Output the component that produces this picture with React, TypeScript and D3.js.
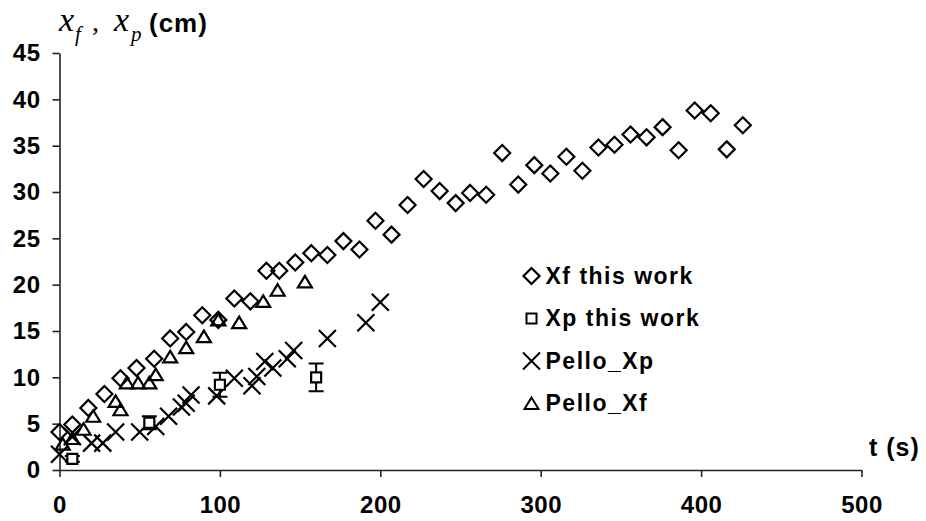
import React, { useRef, useEffect } from 'react';
import * as d3 from 'd3';

// Xf this work (diamonds)
const xfTime = [0, 8, 18, 28, 38, 48, 59, 69, 79, 89, 99, 109, 119, 129, 137, 147, 157, 167, 177, 187, 197, 207, 217, 227, 237, 247, 256, 266, 276, 286, 296, 306, 316, 326, 336, 346, 356, 366, 376, 386, 396, 406, 416, 426];
const xfValue = [4.1, 4.9, 6.7, 8.2, 9.9, 11.0, 12.0, 14.2, 14.9, 16.7, 16.2, 18.5, 18.2, 21.5, 21.5, 22.4, 23.4, 23.2, 24.7, 23.8, 26.9, 25.4, 28.6, 31.4, 30.1, 28.8, 29.9, 29.7, 34.2, 30.8, 32.9, 32.0, 33.8, 32.3, 34.8, 35.1, 36.2, 35.9, 37.0, 34.5, 38.8, 38.5, 34.6, 37.2];

// Xp this work (squares with error bars)
const xpTime = [8, 56, 100, 160];
const xpValue = [1.2, 5.1, 9.2, 10.0];
const xpError = [0.3, 0.7, 1.3, 1.5];

// Pello_Xp (crosses)
const pxpTime = [0, 8, 20, 27, 35, 50, 60, 68, 76, 79, 82, 98, 109, 120, 123, 128, 133, 142, 146, 167, 191, 200];
const pxpValue = [1.7, 3.6, 2.9, 2.9, 4.1, 4.1, 4.7, 5.8, 6.8, 7.2, 8.1, 8.0, 9.9, 9.1, 10.1, 11.7, 11.0, 12.0, 12.9, 14.2, 15.9, 18.1];

// Pello_Xf (triangles)
const pxfTime = [2, 8, 15, 21, 35, 38, 42, 49, 56, 60, 69, 79, 90, 99, 112, 127, 136, 153];
const pxfValue = [2.8, 3.4, 4.4, 5.8, 7.4, 6.5, 9.4, 9.4, 9.4, 10.3, 12.2, 13.2, 14.4, 16.2, 15.9, 18.2, 19.4, 20.3];

const xTicks = [0, 100, 200, 300, 400, 500];
const yTicks = [0, 5, 10, 15, 20, 25, 30, 35, 40, 45];
const legendLabels = ['Xf this work', 'Xp this work', 'Pello_Xp', 'Pello_Xf'];
const legendKinds = ['diamond', 'square', 'cross', 'triangle'];

const width = 926;
const height = 521;
const sans = '"Liberation Sans", Arial, sans-serif';
const serif = '"Liberation Serif", "Times New Roman", serif';

const shapes = {
  diamond: 'M0,-8L8,0L0,8L-8,0Z',
  square: 'M-5,-5H5V5H-5Z',
  cross: 'M-8.5,-8.5L8.5,8.5M-8.5,8.5L8.5,-8.5',
  triangle: 'M0,-6L7,5.5H-7Z',
};

const App = () => {
  const ref = useRef();

  useEffect(() => {
    const svg = d3.select(ref.current);
    svg.selectAll('*').remove();

    const x = d3.scaleLinear([0, 500], [59.5, 861.5]);
    const y = d3.scaleLinear([0, 45], [470, 53]);

    // axes
    const styleAxis = g => {
      g.select('.domain').attr('stroke', '#222').attr('stroke-width', 1.6);
      g.selectAll('.tick line').attr('stroke', '#222').attr('stroke-width', 1.6);
      g.selectAll('.tick text')
        .attr('fill', '#000')
        .attr('font-family', sans)
        .attr('font-weight', 'bold')
        .attr('font-size', 24)
        .style('letter-spacing', '0.5px');
    };

    svg.append('g')
      .attr('transform', 'translate(0,470)')
      .call(d3.axisBottom(x).tickValues(xTicks).tickSize(7).tickSizeOuter(0).tickPadding(19))
      .call(styleAxis);

    svg.append('g')
      .attr('transform', 'translate(59.5,0)')
      .call(d3.axisLeft(y).tickValues(yTicks).tickSize(7).tickSizeOuter(0).tickPadding(12))
      .call(styleAxis);

    const marks = svg.append('g')
      .attr('fill', 'none')
      .attr('stroke', '#000')
      .attr('stroke-width', 2.2);

    const plot = (ts, vs, kind) => {
      marks.append('g')
        .selectAll('path')
        .data(d3.range(ts.length))
        .join('path')
        .attr('d', shapes[kind])
        .attr('transform', i => `translate(${x(ts[i])},${y(vs[i])})`);
    };

    plot(xfTime, xfValue, 'diamond');
    plot(pxfTime, pxfValue, 'triangle');
    plot(pxpTime, pxpValue, 'cross');

    // error bars for Xp this work
    const eb = marks.append('g').attr('stroke-width', 2);
    xpTime.forEach((t, i) => {
      const cx = x(t);
      const lo = y(xpValue[i] - xpError[i]);
      const hi = y(xpValue[i] + xpError[i]);
      eb.append('path')
        .attr('d', `M${cx},${lo}V${hi}M${cx - 7.5},${lo}H${cx + 7.5}M${cx - 7.5},${hi}H${cx + 7.5}`);
    });
    marks.append('g')
      .selectAll('path')
      .data(d3.range(xpTime.length))
      .join('path')
      .attr('d', shapes.square)
      .attr('fill', '#fff')
      .attr('transform', i => `translate(${x(xpTime[i])},${y(xpValue[i])})`);

    // legend
    const legend = svg.append('g').attr('transform', 'translate(531.5,276)');
    legendLabels.forEach((label, i) => {
      const row = legend.append('g').attr('transform', `translate(0,${i * 42.5})`);
      row.append('path')
        .attr('d', shapes[legendKinds[i]])
        .attr('fill', 'none')
        .attr('stroke', '#000')
        .attr('stroke-width', legendKinds[i] === 'diamond' ? 2.2 : 2);
      row.append('text')
        .attr('x', 14)
        .attr('y', 7.5)
        .attr('font-family', sans)
        .attr('font-weight', 'bold')
        .attr('font-size', 23)
        .style('letter-spacing', '1.5px')
        .text(label);
    });

    // y axis title: x_f , x_p (cm)
    const title = svg.append('g');
    title.append('text').attr('x', 59).attr('y', 31)
      .attr('font-family', serif).attr('font-style', 'italic').attr('font-size', 34).text('x');
    title.append('text').attr('x', 75).attr('y', 41)
      .attr('font-family', serif).attr('font-style', 'italic').attr('font-size', 21).text('f');
    title.append('text').attr('x', 92).attr('y', 31)
      .attr('font-family', serif).attr('font-size', 28).text(',');
    title.append('text').attr('x', 114).attr('y', 31)
      .attr('font-family', serif).attr('font-style', 'italic').attr('font-size', 34).text('x');
    title.append('text').attr('x', 131).attr('y', 41)
      .attr('font-family', serif).attr('font-style', 'italic').attr('font-size', 21).text('p');
    title.append('text').attr('x', 149).attr('y', 32)
      .attr('font-family', sans).attr('font-weight', 'bold').attr('font-size', 26)
      .style('letter-spacing', '1px').text('(cm)');

    svg.append('text')
      .attr('x', 869).attr('y', 456)
      .attr('font-family', sans).attr('font-weight', 'bold').attr('font-size', 25)
      .style('letter-spacing', '1px')
      .text('t (s)');
  }, []);

  return (
    <svg
      ref={ref}
      width={width}
      height={height}
      style={{ position: 'absolute', left: 0, top: 0, background: '#fff' }}
    />
  );
};

export default App;
